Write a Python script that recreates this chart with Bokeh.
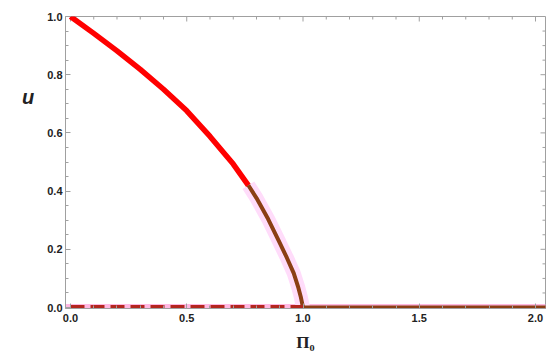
from bokeh.plotting import figure
from bokeh.models import Range1d, FixedTicker, PrintfTickFormatter
from bokeh.embed import file_html
from bokeh.resources import INLINE

# data
pi0_red = [0.0, 0.1, 0.2, 0.3, 0.4, 0.5, 0.6, 0.7, 0.765]
u_red = [1.0, 0.942, 0.882, 0.818, 0.750, 0.676, 0.588, 0.493, 0.42]
pi0_brown = [0.765, 0.8, 0.85, 0.9, 0.93, 0.96, 0.98, 0.99, 1.0]
u_brown = [0.42, 0.376, 0.304, 0.222, 0.172, 0.118, 0.068, 0.038, 0.0]
pi0_unstable = [0.0, 1.0]
u_unstable = [0.0, 0.0]
pi0_zero = [1.0, 2.05]
u_zero = [0.0, 0.0]
x_ticks = [0.0, 0.5, 1.0, 1.5, 2.0]
y_ticks = [0.0, 0.2, 0.4, 0.6, 0.8, 1.0]
x_minor = [i / 10 for i in range(0, 21) if i % 5]
y_minor = [i / 20 for i in range(0, 21) if i % 4]

X0, X1 = -0.0215, 2.043
Y0, Y1 = -0.0034, 1.0

p = figure(width=550, height=357, output_backend="svg", toolbar_location=None,
           x_range=Range1d(X0, X1), y_range=Range1d(Y0, Y1),
           min_border_left=65, min_border_right=5, min_border_top=16, min_border_bottom=49)
p.grid.visible = False
p.outline_line_color = "#a0a0a0"
p.background_fill_color = "white"

for ax in (p.xaxis[0], p.yaxis[0]):
    ax.axis_line_color = "#a0a0a0"
    ax.major_tick_line_color = "#a0a0a0"
    ax.minor_tick_line_color = "#a0a0a0"
    ax.major_tick_in = 5
    ax.major_tick_out = 0
    ax.minor_tick_in = 3
    ax.minor_tick_out = 0
    ax.major_label_text_font = "Liberation Sans"
    ax.major_label_text_font_style = "bold"
    ax.major_label_text_font_size = "11px"
    ax.major_label_text_color = "#222222"
    ax.formatter = PrintfTickFormatter(format="%.1f")

p.xaxis.ticker = FixedTicker(ticks=x_ticks, minor_ticks=x_minor)
p.yaxis.ticker = FixedTicker(ticks=y_ticks, minor_ticks=y_minor)
p.xaxis.major_label_standoff = 5
p.yaxis.major_label_standoff = 3
p.xaxis.axis_label = "Π₀"
p.xaxis.axis_label_text_font = "Liberation Serif"
p.xaxis.axis_label_text_font_style = "bold"
p.xaxis.axis_label_text_font_size = "17px"
p.xaxis.axis_label_text_color = "#222222"
p.xaxis.axis_label_standoff = 8

p.yaxis.axis_label = "u\n\n\n\n\n"
p.yaxis.axis_label_orientation = "horizontal"
p.yaxis.axis_label_text_font = "Liberation Sans"
p.yaxis.axis_label_text_font_style = "bold italic"
p.yaxis.axis_label_text_font_size = "20px"
p.yaxis.axis_label_text_color = "#222222"
p.yaxis.axis_label_standoff = 10

# frame ticks on top and right (inward)
dy = (Y1 - Y0) / 292.0
dx = (X1 - X0) / 480.0
p.segment(x0=x_ticks, y0=[Y1] * len(x_ticks), x1=x_ticks, y1=[Y1 - 5 * dy] * len(x_ticks),
          line_color="#a0a0a0", line_width=1)
p.segment(x0=x_minor, y0=[Y1] * len(x_minor), x1=x_minor, y1=[Y1 - 3 * dy] * len(x_minor),
          line_color="#a0a0a0", line_width=1)
p.segment(x0=[X1] * len(y_ticks), y0=y_ticks, x1=[X1 - 5 * dx] * len(y_ticks), y1=y_ticks,
          line_color="#a0a0a0", line_width=1)
p.segment(x0=[X1] * len(y_minor), y0=y_minor, x1=[X1 - 3 * dx] * len(y_minor), y1=y_minor,
          line_color="#a0a0a0", line_width=1)

# pink highlight
p.line([X0, X1], [-0.002, -0.002], line_color="#ffb8e2", line_width=8)
p.line(pi0_brown, u_brown, line_color="#ffdcfa", line_width=14)

p.line(pi0_red, u_red, line_color="#ff0000", line_width=5.5)
p.line(pi0_brown, u_brown, line_color="#8b3f14", line_width=4)
p.line(pi0_unstable, u_unstable, line_color="#b3261e", line_width=5, line_dash="14 6")
p.line(pi0_zero, u_zero, line_color="#8b3f14", line_width=4)

open("out.html", "w").write(file_html(p, INLINE))
